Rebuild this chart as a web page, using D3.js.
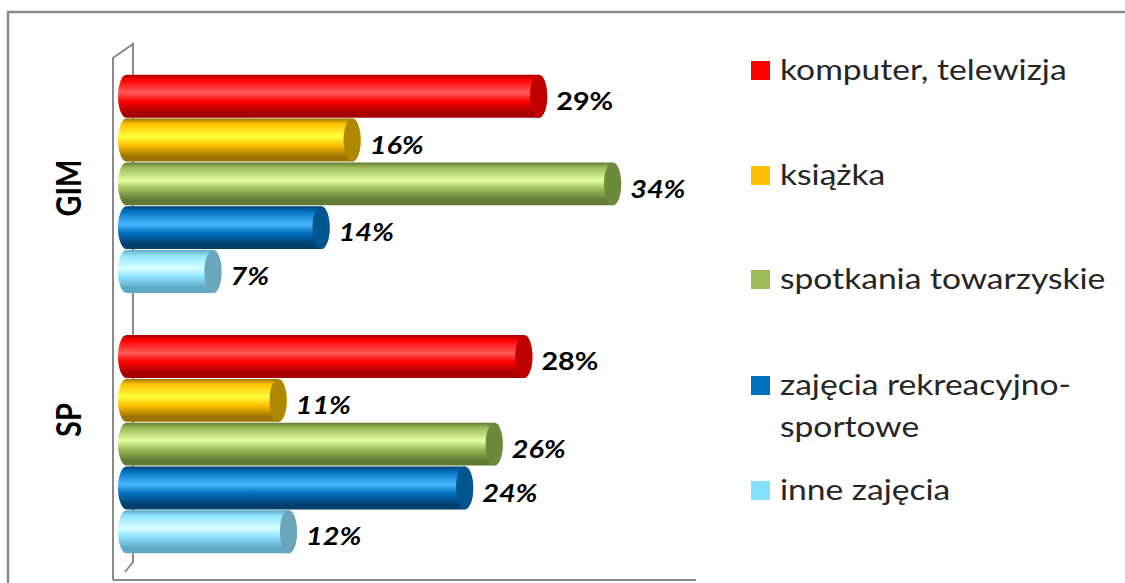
<!DOCTYPE html>
<html>
<head>
<meta charset="utf-8">
<script src="https://cdn.jsdelivr.net/npm/d3@7"></script>
<style>
  body { margin: 0; background: #fff; }
</style>
</head>
<body>
<script>
// data (bar lengths, labels rounded)
var categories = ["GIM", "SP"];
var series = ["komputer, telewizja", "książka", "spotkania towarzyskie", "zajęcia rekreacyjno-sportowe", "inne zajęcia"];
var gimValues = [29, 16.4, 34, 14.3, 7];
var spValues = [28, 11.4, 26, 24, 12.1];
var xTicks = [0, 40];

// colours: base, highlight, dark edge, end cap
var colors = [
  {base: "#ff0000", light: "#ff5a5a", dark: "#a80000", cap: "#c00000", legend: "#ff0000"},
  {base: "#ffc000", light: "#ffff3c", dark: "#9c7400", cap: "#b08800", legend: "#ffc000"},
  {base: "#9bbb59", light: "#e4ffa0", dark: "#617a33", cap: "#6d8a3c", legend: "#9bbb59"},
  {base: "#0070c0", light: "#4ab8ff", dark: "#00406e", cap: "#00558f", legend: "#0070c0"},
  {base: "#8ee2ff", light: "#d8ffff", dark: "#5ea8c4", cap: "#6aa6bc", legend: "#85dfff"}
];

var width = 1125, height = 583;
var stretch = 1.2; // the original picture is a little wider than tall

var svg = d3.select("body").append("svg")
    .attr("width", width)
    .attr("height", height);

var defs = svg.append("defs");
colors.forEach(function(c, i) {
  var g = defs.append("linearGradient")
      .attr("id", "cyl" + i)
      .attr("x1", 0).attr("y1", 0).attr("x2", 0).attr("y2", 1);
  g.append("stop").attr("offset", "0%").attr("stop-color", c.dark);
  g.append("stop").attr("offset", "12%").attr("stop-color", c.base);
  g.append("stop").attr("offset", "42%").attr("stop-color", c.light);
  g.append("stop").attr("offset", "62%").attr("stop-color", c.base);
  g.append("stop").attr("offset", "88%").attr("stop-color", c.dark);
  g.append("stop").attr("offset", "100%").attr("stop-color", c.dark);
});

// outer frame
svg.append("rect")
    .attr("x", 8).attr("y", 12)
    .attr("width", 1130).attr("height", 600)
    .attr("fill", "none")
    .attr("stroke", "#8a8a8a")
    .attr("stroke-width", 2.5);

// scales
var x = d3.scaleLinear().domain([xTicks[0], xTicks[1]]).range([118, 710]);
var y0 = d3.scaleBand().domain(categories).range([54, 574])
    .paddingInner(0.162).paddingOuter(0.08);
var y1 = d3.scaleBand().domain(series).range([0, y0.bandwidth()]).paddingInner(0.02);
var yLabel = d3.scalePoint().domain(categories).range([188, 420]);

// 3d walls
var depthX = 20, depthY = 14;
var frontX = x(0) - 5, backX = frontX + depthX;
var floorY = 580, topY = 58;
var walls = svg.append("g")
    .attr("fill", "none")
    .attr("stroke", "#8a8a8a")
    .attr("stroke-width", 2);
walls.append("path")
    .attr("d", "M" + frontX + "," + floorY + "V" + topY +
               "L" + backX + "," + (topY - depthY) + "V" + (floorY - depthY - 4) +
               "L" + (backX - 8) + "," + (floorY - 8));
walls.append("path")
    .attr("d", "M" + frontX + "," + floorY + "H" + (x(xTicks[1]) - depthX + 6));

// bars
var rows = [];
categories.forEach(function(cat, ci) {
  var vals = ci === 0 ? gimValues : spValues;
  series.forEach(function(s, si) {
    rows.push({cat: cat, series: s, si: si, value: vals[si]});
  });
});

var bars = svg.append("g").selectAll("g.bar")
  .data(rows)
  .enter().append("g")
    .attr("class", "bar");

bars.each(function(d) {
  var g = d3.select(this);
  var yt = y0(d.cat) + y1(d.series);
  var h = y1.bandwidth();
  var rx = h * 0.2, ry = h / 2;
  var xl = x(0) + rx;
  var xc = x(d.value) - rx;
  g.append("path")
    .attr("d", "M" + xl + "," + yt + "H" + xc +
               "A" + rx + "," + ry + " 0 0 1 " + xc + "," + (yt + h) +
               "H" + xl +
               "A" + rx + "," + ry + " 0 0 1 " + xl + "," + yt + "Z")
    .attr("fill", "url(#cyl" + d.si + ")");
  g.append("ellipse")
    .attr("cx", xc).attr("cy", yt + ry)
    .attr("rx", rx).attr("ry", ry)
    .attr("fill", colors[d.si].cap);
  // labels sit a little below the bar's middle, as in the original
  g.append("text")
    .attr("transform", "translate(" + (x(d.value) + 9) + "," + (yt + ry + 5) + ") scale(" + stretch + ",1)")
    .attr("dy", "0.36em")
    .attr("font-family", "Lato, 'Open Sans', sans-serif")
    .attr("font-weight", "bold")
    .attr("font-style", d.si === 0 ? "normal" : "italic")
    .attr("font-size", 24)
    .attr("fill", "#000")
    .text(Math.round(d.value) + "%");
});

// category labels
svg.append("g").selectAll("text")
  .data(categories)
  .enter().append("text")
    .attr("transform", function(d) { return "translate(68," + yLabel(d) + ") rotate(-90) scale(1," + stretch + ")"; })
    .attr("text-anchor", "middle")
    .attr("dy", "0.36em")
    .attr("font-family", "Lato, 'Open Sans', sans-serif")
    .attr("font-weight", "bold")
    .attr("font-size", 29)
    .attr("fill", "#000")
    .text(function(d) { return d; });

// legend
var legendY = [70, 175, 279, 385, 490];
var legendLines = [["komputer, telewizja"], ["książka"], ["spotkania towarzyskie"],
                   ["zajęcia rekreacyjno-", "sportowe"], ["inne zajęcia"]];
var legend = svg.append("g").selectAll("g")
  .data(series)
  .enter().append("g")
    .attr("transform", function(d, i) { return "translate(751," + legendY[i] + ")"; });
legend.append("rect")
    .attr("x", 0).attr("y", -9)
    .attr("width", 19).attr("height", 19)
    .attr("fill", function(d, i) { return colors[i].legend; });
legend.append("text")
    .attr("transform", "translate(29,0) scale(" + stretch + ",1)")
    .attr("font-family", "Lato, 'Open Sans', sans-serif")
    .attr("font-size", 28)
    .attr("fill", "#262626")
    .each(function(d, i) {
      var t = d3.select(this);
      legendLines[i].forEach(function(line, li) {
        t.append("tspan")
          .attr("x", 0)
          .attr("y", li * 42)
          .attr("dy", "0.35em")
          .text(line);
      });
    });
</script>
</body>
</html>
